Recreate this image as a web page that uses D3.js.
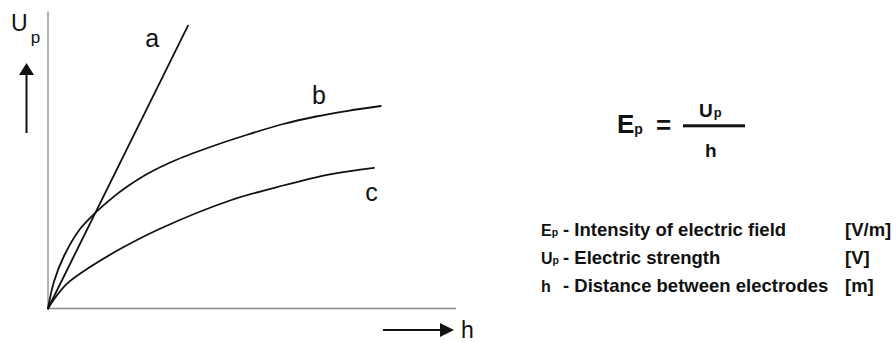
<!DOCTYPE html>
<html>
<head>
<meta charset="utf-8">
<script src="https://cdn.jsdelivr.net/npm/d3@7/dist/d3.min.js"></script>
<style>
  html, body { margin: 0; padding: 0; background: #fff; }
  svg { display: block; font-family: "Liberation Sans", Arial, sans-serif; }
</style>
</head>
<body>
<svg id="chart" width="896" height="343"></svg>
<script>
// Breakdown voltage Up versus electrode distance h for three cases (a, b, c)
const seriesNames = ["a", "b", "c"];
const seriesA = [[0, 0], [35, 94.3]];
const seriesB = [[0, 0], [1.5, 9], [4, 17.5], [8, 26.5], [12, 32.1], [16, 36.8], [20, 40.8],
  [25, 45], [32, 49.5], [42, 54.5], [50, 58], [58.8, 61.5], [67, 64], [75, 65.9], [83.2, 67.5]];
const seriesC = [[0, 0], [1.3, 2.7], [4.7, 8.2], [10.5, 13.8], [18.8, 20.4], [28, 26.6],
  [45.5, 36], [58.8, 41], [70.5, 44.7], [81.5, 46.9]];
const labelPos = [[24.3, 87.3], [66, 68.3], [79.3, 36]];

// Legend rows
const legendSymbols = [["E", "p"], ["U", "p"], ["h", ""]];
const legendTexts = ["- Intensity of electric field", "- Electric strength", "- Distance between electrodes"];
const legendUnits = ["[V/m]", "[V]", "[m]"];

const svg = d3.select("#chart");
const x = d3.scaleLinear().domain([0, 100]).range([48, 448]);
const y = d3.scaleLinear().domain([0, 100]).range([308.5, 8.5]);

// Axes as plain lines
const axisColor = "#8a8a8a";
svg.append("line").attr("x1", x(0)).attr("x2", x(0)).attr("y1", y(99)).attr("y2", y(0))
  .attr("stroke", axisColor).attr("stroke-width", 1.3);
svg.append("line").attr("x1", x(0)).attr("x2", x(102)).attr("y1", y(0)).attr("y2", y(0))
  .attr("stroke", axisColor).attr("stroke-width", 1.3);

// Curves
const line = d3.line().x(d => x(d[0])).y(d => y(d[1])).curve(d3.curveCatmullRom.alpha(0.5));
[seriesA, seriesB, seriesC].forEach(s => {
  svg.append("path").attr("d", line(s)).attr("fill", "none")
    .attr("stroke", "#111").attr("stroke-width", 1.8).attr("stroke-linecap", "round");
});
svg.selectAll("text.curve").data(seriesNames).join("text").attr("class", "curve")
  .attr("x", (d, i) => x(labelPos[i][0])).attr("y", (d, i) => y(labelPos[i][1]))
  .attr("font-size", 25).attr("fill", "#111").text(d => d);

// Axis direction arrows and titles
function arrowHead(tip, dir) {
  const [tx, ty] = tip;
  if (dir === "up") return `M${tx},${ty} L${tx - 7.5},${ty + 12} L${tx + 7.5},${ty + 12} Z`;
  return `M${tx},${ty} L${tx - 14},${ty - 7} L${tx - 14},${ty + 7} Z`;
}
svg.append("line").attr("x1", 26.5).attr("x2", 26.5).attr("y1", 74).attr("y2", 133)
  .attr("stroke", "#111").attr("stroke-width", 2);
svg.append("path").attr("d", arrowHead([26.5, 63], "up")).attr("fill", "#111");
svg.append("line").attr("x1", 383).attr("x2", 442).attr("y1", 330).attr("y2", 330)
  .attr("stroke", "#111").attr("stroke-width", 2);
svg.append("path").attr("d", arrowHead([454, 330], "right")).attr("fill", "#111");

const yTitle = svg.append("text").attr("x", 11).attr("y", 31).attr("font-size", 23).attr("fill", "#111");
yTitle.append("tspan").text("U");
yTitle.append("tspan").attr("font-size", 17).attr("dx", 3).attr("dy", 12).text("p");
svg.append("text").attr("x", 461).attr("y", 338).attr("font-size", 23).attr("fill", "#111").text("h");

// Formula Ep = Up / h
const f = svg.append("g").attr("font-weight", "bold").attr("fill", "#111");
const ep = f.append("text").attr("x", 617).attr("y", 133).attr("font-size", 26);
ep.append("tspan").text("E");
ep.append("tspan").attr("font-size", 14).attr("dy", 1).text("p");
f.append("text").attr("x", 656).attr("y", 134).attr("font-size", 26).text("=");
f.append("rect").attr("x", 683).attr("y", 124.3).attr("width", 62).attr("height", 3);
const up = f.append("text").attr("x", 699).attr("y", 117).attr("font-size", 19);
up.append("tspan").text("U");
up.append("tspan").attr("font-size", 13).attr("dx", 1).text("p");
f.append("text").attr("x", 705).attr("y", 157).attr("font-size", 19).text("h");

// Legend
const rowY = [236, 264, 292];
const lg = svg.append("g").attr("font-weight", "bold").attr("fill", "#111").attr("font-size", 18.5);
legendSymbols.forEach((s, i) => {
  const t = lg.append("text").attr("x", 541).attr("y", rowY[i]).attr("font-size", 16);
  t.append("tspan").text(s[0]);
  if (s[1]) t.append("tspan").attr("font-size", 10.5).text(s[1]);
  lg.append("text").attr("x", 563).attr("y", rowY[i]).text(legendTexts[i]);
  lg.append("text").attr("x", 845).attr("y", rowY[i]).text(legendUnits[i]);
});
</script>
</body>
</html>
